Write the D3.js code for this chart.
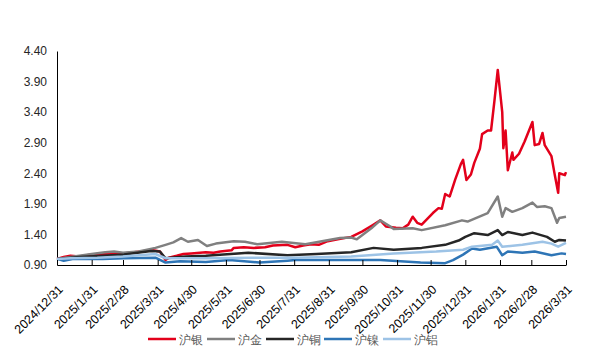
<!DOCTYPE html>
<html><head><meta charset="utf-8">
<script src="https://cdn.jsdelivr.net/npm/d3@7/dist/d3.min.js"></script>
<style>
body{margin:0;background:#fff;}
text{font-family:"Liberation Sans",Arial,sans-serif;}
</style></head>
<body><svg id="c" width="589" height="360"></svg>
<script>
const seriesNames = ["沪银","沪金","沪铜","沪镍","沪铝"];
const seriesColors = ["#e3001b","#808080","#262626","#2e75b6","#9dc3e6"];
const yTicks = [0.90,1.40,1.90,2.40,2.90,3.40,3.90,4.40];
const xTickLabels = ["2024/12/31","2025/1/31","2025/2/28","2025/3/31","2025/4/30","2025/5/31","2025/6/30","2025/7/31","2025/8/31","2025/9/30","2025/10/31","2025/11/30","2025/12/31","2026/1/31","2026/2/28","2026/3/31"];

const silver = [["2024-12-31",1.00],["2025-01-06",1.03],["2025-01-12",1.05],["2025-01-20",1.04],["2025-01-31",1.07],["2025-02-14",1.08],["2025-02-20",1.10],["2025-02-28",1.09],["2025-03-10",1.11],["2025-03-20",1.13],["2025-03-27",1.14],["2025-04-02",1.12],["2025-04-07",0.98],["2025-04-10",1.02],["2025-04-17",1.05],["2025-04-23",1.08],["2025-04-30",1.09],["2025-05-13",1.11],["2025-05-20",1.10],["2025-05-26",1.12],["2025-06-05",1.14],["2025-06-07",1.18],["2025-06-16",1.19],["2025-06-25",1.18],["2025-07-05",1.19],["2025-07-12",1.22],["2025-07-25",1.23],["2025-08-01",1.19],["2025-08-08",1.22],["2025-08-15",1.24],["2025-08-22",1.23],["2025-08-30",1.29],["2025-09-08",1.32],["2025-09-20",1.36],["2025-09-30",1.45],["2025-10-09",1.55],["2025-10-16",1.63],["2025-10-21",1.53],["2025-10-30",1.51],["2025-11-05",1.50],["2025-11-10",1.56],["2025-11-14",1.69],["2025-11-18",1.59],["2025-11-22",1.56],["2025-12-02",1.75],["2025-12-07",1.83],["2025-12-10",1.82],["2025-12-13",2.06],["2025-12-17",2.02],["2025-12-22",2.30],["2025-12-27",2.55],["2025-12-29",2.62],["2026-01-01",2.29],["2026-01-05",2.38],["2026-01-08",2.57],["2026-01-13",2.80],["2026-01-15",3.04],["2026-01-20",3.10],["2026-01-23",3.10],["2026-01-26",3.58],["2026-01-29",4.09],["2026-02-02",3.40],["2026-02-03",2.81],["2026-02-05",3.10],["2026-02-07",2.45],["2026-02-11",2.74],["2026-02-12",2.62],["2026-02-17",2.72],["2026-02-22",2.92],["2026-03-01",3.24],["2026-03-03",2.86],["2026-03-07",2.88],["2026-03-10",3.06],["2026-03-12",2.86],["2026-03-18",2.68],["2026-03-21",2.37],["2026-03-24",2.08],["2026-03-25",2.40],["2026-03-30",2.37],["2026-03-31",2.42]];
const gold = [["2024-12-31",1.00],["2025-01-12",1.03],["2025-01-20",1.05],["2025-01-31",1.08],["2025-02-12",1.11],["2025-02-20",1.12],["2025-02-28",1.10],["2025-03-14",1.12],["2025-03-29",1.18],["2025-04-07",1.23],["2025-04-14",1.27],["2025-04-21",1.34],["2025-04-27",1.28],["2025-05-06",1.31],["2025-05-14",1.21],["2025-05-22",1.25],["2025-06-07",1.29],["2025-06-17",1.28],["2025-06-28",1.24],["2025-07-20",1.28],["2025-08-10",1.24],["2025-08-31",1.31],["2025-09-10",1.34],["2025-09-20",1.35],["2025-09-25",1.32],["2025-10-08",1.50],["2025-10-16",1.63],["2025-10-25",1.53],["2025-10-28",1.49],["2025-11-14",1.50],["2025-11-22",1.47],["2025-12-13",1.55],["2025-12-28",1.63],["2026-01-02",1.61],["2026-01-20",1.75],["2026-01-29",2.02],["2026-02-02",1.69],["2026-02-05",1.83],["2026-02-11",1.77],["2026-02-20",1.83],["2026-03-01",1.92],["2026-03-05",1.85],["2026-03-12",1.86],["2026-03-18",1.83],["2026-03-23",1.59],["2026-03-25",1.67],["2026-03-31",1.69]];
const copper = [["2024-12-31",1.00],["2025-01-20",1.03],["2025-02-10",1.05],["2025-03-01",1.07],["2025-03-25",1.13],["2025-04-02",1.12],["2025-04-07",1.01],["2025-04-25",1.04],["2025-05-13",1.05],["2025-06-20",1.10],["2025-07-25",1.06],["2025-08-20",1.08],["2025-09-20",1.11],["2025-10-10",1.18],["2025-10-28",1.15],["2025-11-22",1.18],["2025-12-13",1.23],["2025-12-25",1.30],["2025-12-31",1.36],["2026-01-08",1.42],["2026-01-20",1.39],["2026-01-29",1.47],["2026-02-02",1.39],["2026-02-07",1.44],["2026-02-20",1.39],["2026-03-01",1.43],["2026-03-14",1.36],["2026-03-21",1.28],["2026-03-25",1.31],["2026-03-31",1.30]];
const nickel = [["2024-12-31",1.00],["2025-01-06",0.97],["2025-01-15",1.00],["2025-02-10",1.00],["2025-03-01",1.01],["2025-03-29",1.02],["2025-04-07",0.94],["2025-04-20",0.96],["2025-05-13",0.95],["2025-06-03",0.98],["2025-06-30",0.94],["2025-07-25",0.97],["2025-08-01",0.98],["2025-09-20",0.98],["2025-10-16",0.98],["2025-11-21",0.94],["2025-12-13",0.93],["2025-12-20",0.98],["2025-12-29",1.07],["2026-01-06",1.17],["2026-01-13",1.15],["2026-01-28",1.20],["2026-02-02",1.06],["2026-02-07",1.12],["2026-02-20",1.10],["2026-03-03",1.12],["2026-03-18",1.06],["2026-03-27",1.09],["2026-03-31",1.08]];
const aluminum = [["2024-12-31",1.00],["2025-01-12",1.01],["2025-02-05",1.02],["2025-02-28",1.04],["2025-03-29",1.08],["2025-04-07",1.01],["2025-04-28",1.01],["2025-05-13",1.01],["2025-06-25",1.02],["2025-08-01",1.02],["2025-09-20",1.04],["2025-10-28",1.09],["2025-12-05",1.12],["2025-12-29",1.15],["2026-01-06",1.20],["2026-01-24",1.23],["2026-01-29",1.30],["2026-02-02",1.20],["2026-02-20",1.23],["2026-03-10",1.28],["2026-03-18",1.25],["2026-03-24",1.20],["2026-03-31",1.26]];

const allSeries = [silver, gold, copper, nickel, aluminum];
const parse = d3.timeParse("%Y-%m-%d");
const parseTick = d3.timeParse("%Y/%m/%d");

const svg = d3.select("#c");
const L = 57, R = 566, T = 51, B = 265;
const x = d3.scaleTime().domain([parseTick("2024/12/31"), parseTick("2026/3/31")]).range([L, R]);
const y = d3.scaleLinear().domain([0.9, 4.4]).range([B, T]);

// y axis
const yAxis = svg.append("g").attr("transform", `translate(${L},0)`)
  .call(d3.axisLeft(y).tickValues(yTicks).tickFormat(d3.format(".2f")).tickSize(0).tickPadding(10));
yAxis.select(".domain").attr("stroke", "#000").attr("stroke-width", 1);
yAxis.selectAll("text").attr("font-size", 12).attr("fill", "#262626");

// lines
const line = d3.line().x(d => x(parse(d[0]))).y(d => y(d[1]));
allSeries.forEach((s, i) => {
  svg.append("path").datum(s).attr("d", line).attr("fill", "none")
    .attr("stroke", seriesColors[i]).attr("stroke-width", 2.5).attr("stroke-linejoin", "round");
});

// x axis
const xTickDates = xTickLabels.map(parseTick);
const xAxis = svg.append("g").attr("transform", `translate(0,${B})`)
  .call(d3.axisBottom(x).tickValues(xTickDates).tickSize(-5).tickFormat((d, i) => xTickLabels[i]).tickSizeOuter(0));
xAxis.select(".domain").attr("stroke", "#000").attr("stroke-width", 1.2);
xAxis.selectAll(".tick line").attr("stroke", "#000");
xAxis.selectAll("text").attr("font-size", 12.5).attr("fill", "#000")
  .attr("text-anchor", "end").attr("transform", "translate(0,19) rotate(-45)").attr("dy", "0.71em").attr("y", 0).attr("dx", 0);

// legend
const lg = svg.append("g");
const legX = [148, 207, 266, 324, 383];
seriesNames.forEach((n, i) => {
  lg.append("line").attr("x1", legX[i]).attr("x2", legX[i] + 28).attr("y1", 339).attr("y2", 339)
    .attr("stroke", seriesColors[i]).attr("stroke-width", 2.5);
  lg.append("text").attr("x", legX[i] + 31).attr("y", 343.5).attr("font-size", 12).attr("fill", "#595959")
    .attr("font-family", "'Noto Sans CJK SC',sans-serif").text(n);
});
</script></body></html>
